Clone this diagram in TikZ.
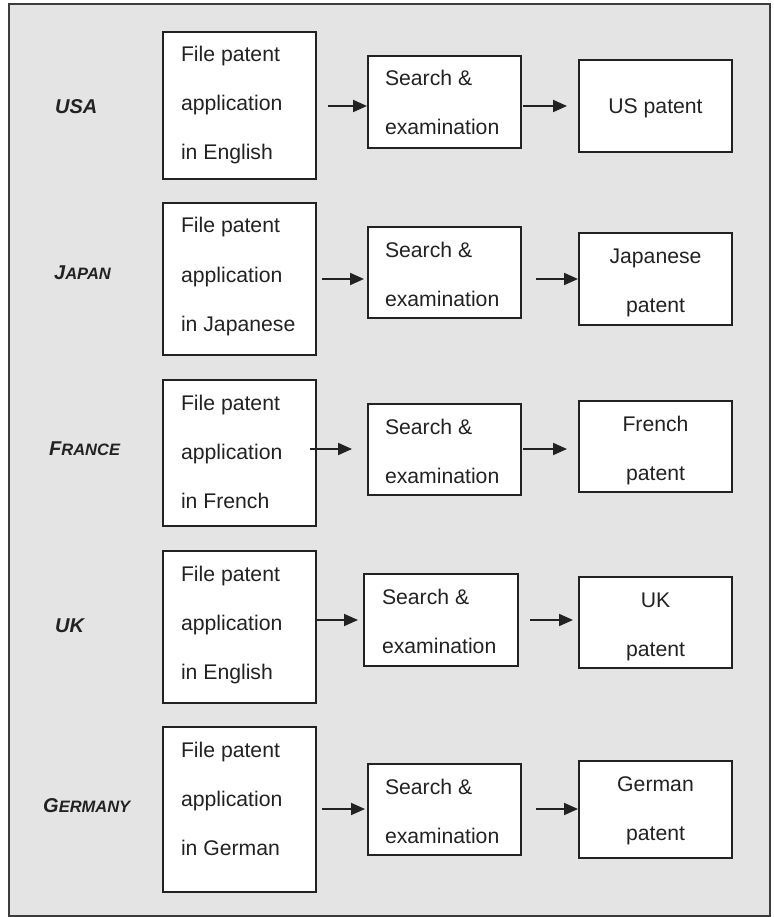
\documentclass[tikz,border=0pt]{standalone}
\usepackage{fontspec}
\setmainfont{Liberation Sans}
\usetikzlibrary{arrows.meta,fit,calc}
\definecolor{panel}{RGB}{228,228,228}
\definecolor{ink}{RGB}{34,34,34}
\definecolor{rim}{RGB}{60,60,60}

% left-aligned lines inside a box: #1 box, #2 left inset, #3 lines
\newcommand\leftlines[3]{%
  \foreach \t [count=\i] in {#3} {%
    \node[txt, anchor=base west] (#1-t\i) at ($(#1.north west)+(#2,{30+49*(\i-1)})$) {\t};}}
% centred lines inside a box: #1 box, #2 lines
\newcommand\midlines[2]{%
  \foreach \t [count=\i] in {#2} {%
    \node[txt, anchor=base] (#1-t\i) at ($(#1.north)+(0,{30+49*(\i-1)})$) {\t};}}
% country name with small capitals: #1 initial, #2 rest
\newcommand\ctry[2]{{\fontsize{20}{24}\selectfont #1}{\fontsize{16.5}{20}\selectfont #2}}

\begin{document}
\begin{tikzpicture}[x=1pt,y=-1pt,
  box/.style={draw=ink, line width=1.9pt, fill=white, inner sep=0pt, outer sep=0pt},
  txt/.style={text=ink, font=\fontsize{21.2}{25}\selectfont, inner sep=0pt, outer sep=0pt},
  country/.style={text=ink, font=\bfseries\itshape\fontsize{20}{24}\selectfont, inner sep=0pt, anchor=base west},
  arr/.style={draw=ink, line width=1.9pt, -{Triangle[length=14pt,width=12pt]}}]
\useasboundingbox (0,0) rectangle (773,917);

% panel
\node[fit={(9,4)(770,916)}, draw=rim, fill=panel, line width=1.8pt, inner sep=0pt] (frame) {};

% ---- USA
\node[country] (usa) at (55,113.5) {USA};
\node[box, fit={(163,32)(316,179)}] (u1) {};
\node[box, fit={(368,56)(521,148)}] (u2) {};
\node[box, fit={(579,60)(732,152)}] (u3) {};
\leftlines{u1}{18}{File patent,application,in English}
\leftlines{u2}{17}{Search \&,examination}
\node[txt, anchor=base] (u3-t1) at ($(u3.center)+(0,7.5)$) {US patent};
\coordinate (ua) at ($(u1.east)+(0,0.5)$);
\draw[arr, shorten <=12pt, shorten >=1pt] (ua) -- (ua -| u2.west);
\draw[arr, shorten <=2pt, shorten >=12pt] (ua -| u2.east) -- (ua -| u3.west);

% ---- Japan
\node[country] (jp) at (54,279.5) {\ctry{J}{APAN}};
\node[box, fit={(163,203)(316,355)}] (j1) {};
\node[box, fit={(368,227)(521,318)}] (j2) {};
\node[box, fit={(579,233)(732,325)}] (j3) {};
\leftlines{j1}{18}{File patent,application,in Japanese}
\leftlines{j2}{17}{Search \&,examination}
\midlines{j3}{Japanese,patent}
\coordinate (ja) at (j1.east);
\draw[arr, shorten <=6pt, shorten >=4pt] (ja) -- (ja -| j2.west);
\draw[arr, shorten <=15pt, shorten >=1pt] (ja -| j2.east) -- (ja -| j3.west);

% ---- France
\node[country] (fr) at (49,455.5) {\ctry{F}{RANCE}};
\node[box, fit={(163,380)(316,526)}] (f1) {};
\node[box, fit={(368,404)(521,495)}] (f2) {};
\node[box, fit={(579,401)(732,492)}] (f3) {};
\leftlines{f1}{18}{File patent,application,in French}
\leftlines{f2}{17}{Search \&,examination}
\midlines{f3}{French,patent}
\coordinate (fa) at ($(f1.east)+(0,-4)$);
\draw[arr, shorten <=-6pt, shorten >=16pt] (fa) -- (fa -| f2.west);
\draw[arr, shorten <=2pt, shorten >=12pt] (fa -| f2.east) -- (fa -| f3.west);

% ---- UK
\node[country] (uk) at (55,632) {UK};
\node[box, fit={(163,551)(316,703)}] (k1) {};
\node[box, fit={(364,574)(518,666)}] (k2) {};
\node[box, fit={(579,577)(732,668)}] (k3) {};
\leftlines{k1}{18}{File patent,application,in English}
\leftlines{k2}{18}{Search \&,examination}
\midlines{k3}{UK,patent}
\coordinate (ka) at ($(k1.east)+(0,-7)$);
\draw[arr, shorten <=0pt, shorten >=6pt] (ka) -- (ka -| k2.west);
\draw[arr, shorten <=12pt, shorten >=6pt] (ka -| k2.east) -- (ka -| k3.west);

% ---- Germany
\node[country] (de) at (43,812) {\ctry{G}{ERMANY}};
\node[box, fit={(163,727)(316,892)}] (g1) {};
\node[box, fit={(368,764)(521,855)}] (g2) {};
\node[box, fit={(579,761)(732,858)}] (g3) {};
\leftlines{g1}{18}{File patent,application,in German}
\leftlines{g2}{17}{Search \&,examination}
\midlines{g3}{German,patent}
\coordinate (ga) at ($(g1.east)+(0,-0.5)$);
\draw[arr, shorten <=6pt, shorten >=3pt] (ga) -- (ga -| g2.west);
\draw[arr, shorten <=15pt, shorten >=1pt] (ga -| g2.east) -- (ga -| g3.west);
\end{tikzpicture}
\end{document}
